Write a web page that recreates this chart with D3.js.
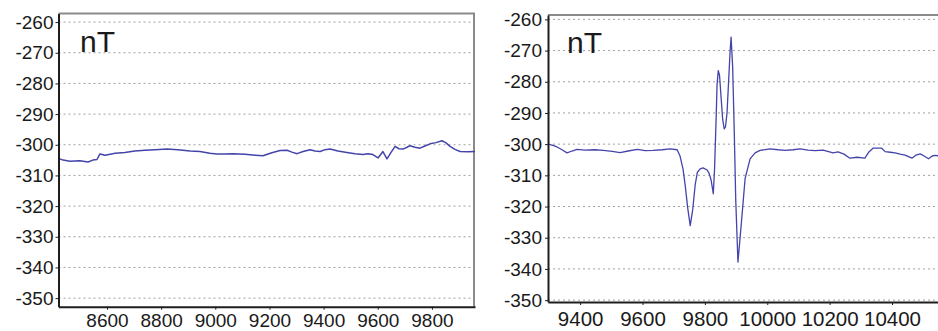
<!DOCTYPE html>
<html>
<head>
<meta charset="utf-8">
<script src="https://cdn.jsdelivr.net/npm/d3@7"></script>
<style>
  html, body { margin: 0; padding: 0; background: #fff; }
  svg { display: block; }
  text { font-family: "Liberation Sans", Arial, sans-serif; fill: #1a1a1a; }
</style>
</head>
<body>
<svg id="chart" width="938" height="331"></svg>
<script>
// ---- data ----
const yTicks = [-260, -270, -280, -290, -300, -310, -320, -330, -340, -350];
const leftTicks = [8600, 8800, 9000, 9200, 9400, 9600, 9800];
const rightTicks = [9400, 9600, 9800, 10000, 10200, 10400];
const unitLabel = "nT";

const leftPos = [8426, 8438, 8463, 8500, 8530, 8548, 8563, 8574, 8593, 8630, 8666, 8703, 8740, 8777,
  8822, 8862, 8907, 8943, 8980, 9006, 9036, 9065, 9110, 9147, 9176, 9209, 9239, 9265, 9283, 9302,
  9324, 9350, 9368, 9387, 9405, 9424, 9453, 9486, 9516, 9545, 9564, 9582, 9601, 9619, 9634, 9649,
  9664, 9678, 9693, 9708, 9719, 9737, 9756, 9774, 9793, 9815, 9837, 9852, 9867, 9885, 9904, 9933, 9959];
const leftNT = [-304.6, -305.0, -305.4, -305.2, -305.6, -305.0, -304.8, -303.0, -303.4, -302.8, -302.5,
  -302.0, -301.8, -301.6, -301.4, -301.6, -302.0, -302.2, -302.8, -303.0, -303.0, -302.9, -303.1,
  -303.4, -303.6, -302.6, -301.9, -301.8, -302.4, -302.9, -302.2, -301.6, -302.0, -302.2, -301.6,
  -301.4, -302.0, -302.5, -302.9, -303.2, -302.9, -303.2, -304.3, -302.2, -304.6, -302.5, -300.5,
  -301.3, -301.4, -300.8, -300.3, -300.8, -301.1, -300.4, -299.7, -299.3, -298.7, -299.4, -300.5,
  -301.5, -302.2, -302.3, -302.2];

const rightPos = [9297, 9313, 9326, 9342, 9358, 9374, 9390, 9416, 9448, 9474, 9503, 9528, 9554, 9583,
  9608, 9634, 9663, 9688, 9711, 9720, 9730, 9737, 9745, 9753, 9761, 9769, 9776, 9785, 9794, 9806,
  9813, 9820, 9827, 9831, 9836, 9839, 9843, 9847, 9852, 9857, 9862, 9866, 9871, 9876, 9881, 9884,
  9889, 9894, 9899, 9906, 9912, 9919, 9929, 9945, 9961, 9977, 10009, 10035, 10057, 10083, 10105,
  10131, 10153, 10179, 10211, 10227, 10246, 10265, 10288, 10313, 10326, 10339, 10367, 10378, 10394,
  10410, 10426, 10442, 10464, 10477, 10490, 10503, 10517, 10529, 10538, 10554, 10586];
const rightNT = [-300.0, -300.4, -300.9, -301.8, -302.8, -302.2, -301.7, -301.9, -301.8, -302.0, -302.3,
  -302.7, -302.2, -301.7, -302.1, -302.0, -301.8, -301.5, -301.8, -303.7, -308.0, -313.3, -320.5,
  -326.1, -321.0, -313.0, -309.0, -307.9, -307.6, -308.2, -309.2, -311.5, -315.9, -308.0, -292.0,
  -281.0, -276.4, -278.0, -285.0, -292.0, -295.1, -294.5, -290.0, -280.0, -270.0, -265.7, -275.0,
  -295.0, -318.0, -337.8, -331.0, -322.9, -311.0, -304.7, -302.8, -302.0, -301.5, -301.8, -302.0,
  -301.8, -301.5, -301.9, -302.1, -301.9, -302.8, -302.5, -303.2, -304.5, -304.2, -304.5, -302.5,
  -301.3, -301.3, -302.4, -302.6, -302.8, -303.2, -303.5, -304.5, -303.5, -303.1, -303.8, -304.7,
  -303.8, -303.6, -303.8, -303.5];

// ---- drawing ----
const svg = d3.select("#chart");
const fmt = d => String(d);   // plain hyphen-minus, as in the reference

const panels = [
  { pos: leftPos, val: leftNT, ticks: leftTicks,
    xDom: [8421, 9959], xRange: [58.5, 475],
    yDom: [-352.8, -257.2], yRange: [306.7, 13.5],
    xFont: 19, yFont: 19, yPad: 2, xPad: 4, labelX: 80, labelY: 52, id: "L", lw: 1.5 },
  { pos: rightPos, val: rightNT, ticks: rightTicks,
    xDom: [9297, 10618], xRange: [548, 960],
    yDom: [-350.6, -258.6], yRange: [302, 15],
    xFont: 20.5, yFont: 19, yPad: 3, xPad: 6, labelX: 567, labelY: 52.5, id: "R", lw: 1.3 }
];

panels.forEach(p => {
  const x = d3.scaleLinear().domain(p.xDom).range(p.xRange);
  const y = d3.scaleLinear().domain(p.yDom).range(p.yRange);
  const [x0, x1] = p.xRange;
  const [yb, yt] = p.yRange;
  const g = svg.append("g");

  g.append("clipPath").attr("id", "clip" + p.id)
    .append("rect").attr("x", x0).attr("y", yt).attr("width", x1 - x0).attr("height", yb - yt);

  // grid
  g.append("g").selectAll("line").data(yTicks).join("line")
    .attr("x1", x0).attr("x2", x1)
    .attr("y1", d => y(d)).attr("y2", d => y(d))
    .attr("stroke", "#a0a0a0").attr("stroke-width", 1)
    .attr("stroke-dasharray", "2,3");

  // top & right frame (gray)
  g.append("line").attr("x1", x0).attr("x2", x1).attr("y1", yt).attr("y2", yt)
    .attr("stroke", "#8a8a8a").attr("stroke-width", 2);
  g.append("line").attr("x1", x1 - 1).attr("x2", x1 - 1).attr("y1", yt).attr("y2", yb)
    .attr("stroke", "#8a8a8a").attr("stroke-width", 2);

  // data line
  const pts = p.pos.map((d, i) => [d, p.val[i]]);
  g.append("path").datum(pts)
    .attr("clip-path", `url(#clip${p.id})`)
    .attr("fill", "none").attr("stroke", "#4444aa").attr("stroke-width", p.lw)
    .attr("stroke-linejoin", "round")
    .attr("d", d3.line().x(d => x(d[0])).y(d => y(d[1])));

  // axes
  const ax = g.append("g").attr("transform", `translate(0,${yb})`)
    .call(d3.axisBottom(x).tickValues(p.ticks).tickFormat(fmt)
      .tickSize(3).tickPadding(p.xPad).tickSizeOuter(0));
  ax.select(".domain").attr("stroke", "#1e1e1e").attr("stroke-width", 2);
  ax.selectAll(".tick line").attr("stroke", "#1e1e1e");
  ax.selectAll("text").style("font-size", p.xFont + "px").attr("fill", "#1a1a1a")
    .style("font-family", "'Liberation Sans', Arial, sans-serif");

  const ay = g.append("g").attr("transform", `translate(${x0},0)`)
    .call(d3.axisLeft(y).tickValues(yTicks).tickFormat(fmt)
      .tickSize(3).tickPadding(p.yPad).tickSizeOuter(0));
  ay.select(".domain").attr("stroke", "#1e1e1e").attr("stroke-width", 2);
  ay.selectAll(".tick line").attr("stroke", "#1e1e1e");
  ay.selectAll("text").style("font-size", p.yFont + "px").attr("fill", "#1a1a1a")
    .style("font-family", "'Liberation Sans', Arial, sans-serif");

  g.append("text").attr("x", p.labelX).attr("y", p.labelY)
    .style("font-size", "30px").text(unitLabel);
});
</script>
</body>
</html>
